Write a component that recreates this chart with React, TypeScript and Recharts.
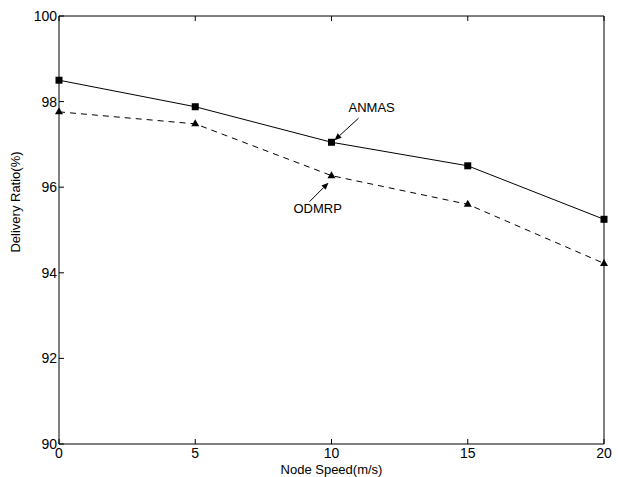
import React from 'react';
import { LineChart, Line, XAxis, YAxis, ReferenceDot } from 'recharts';

const speeds = [0, 5, 10, 15, 20];
const anmas = [98.5, 97.88, 97.05, 96.5, 95.25];
const odmrp = [97.76, 97.48, 96.27, 95.6, 94.22];
const xTicks = [0, 5, 10, 15, 20];
const yTicks = [90, 92, 94, 96, 98, 100];

const data = speeds.map((s, i) => ({ speed: s, anmas: anmas[i], odmrp: odmrp[i] }));

const FONT = '"Liberation Sans", Arial, sans-serif';
const TICK = 5;

const SquareDot = (p: any) => {
  const { cx, cy } = p;
  if (cx == null || cy == null) return null;
  return <rect x={cx - 3.5} y={cy - 3.5} width={7} height={7} fill="#000" />;
};

const TriDot = (p: any) => {
  const { cx, cy } = p;
  if (cx == null || cy == null) return null;
  return <path d={`M${cx},${cy - 4.5} L${cx + 4},${cy + 2.5} L${cx - 4},${cy + 2.5} Z`} fill="#000" />;
};

const Arrow = ({ x1, y1, x2, y2 }: any) => {
  const ang = Math.atan2(y2 - y1, x2 - x1);
  const L = 7, W = 3;
  const bx = x2 - L * Math.cos(ang), by = y2 - L * Math.sin(ang);
  const px = -Math.sin(ang) * W, py = Math.cos(ang) * W;
  return (
    <g>
      <line x1={x1} y1={y1} x2={bx} y2={by} stroke="#000" strokeWidth={1} />
      <path d={`M${x2},${y2} L${bx + px},${by + py} L${bx - px},${by - py} Z`} fill="#000" />
    </g>
  );
};

const AnmasNote = (p: any) => {
  const { cx, cy } = p;
  if (cx == null) return null;
  return (
    <g>
      <Arrow x1={cx + 27} y1={cy - 24} x2={cx + 3} y2={cy - 2} />
      <text x={cx + 17} y={cy - 30} fontFamily={FONT} fontSize={13} fill="#000">ANMAS</text>
    </g>
  );
};

const OdmrpNote = (p: any) => {
  const { cx, cy } = p;
  if (cx == null) return null;
  return (
    <g>
      <Arrow x1={cx - 22} y1={cy + 26} x2={cx - 3} y2={cy + 7} />
      <text x={cx - 38} y={cy + 37} fontFamily={FONT} fontSize={13} fill="#000">ODMRP</text>
    </g>
  );
};

// Left y tick: label + inward tick mark (tickSize 0, tickMargin 2 => axis at x+2)
const LeftTick = (p: any) => {
  const { x, y, payload } = p;
  const ax = x + 2;
  return (
    <g>
      <line x1={ax} y1={y} x2={ax + TICK} y2={y} stroke="#000" />
      <text x={x} y={y} dy="0.355em" textAnchor="end" fontFamily={FONT} fontSize={14} fill="#000">{payload.value}</text>
    </g>
  );
};

// Right y tick: inward mark only (tickSize 0, tickMargin 0 => axis at x)
const RightTick = (p: any) => {
  const { x, y } = p;
  return <line x1={x} y1={y} x2={x - TICK} y2={y} stroke="#000" />;
};

// Bottom x tick: label + inward mark (tickSize 0, tickMargin 2 => axis at y-2)
const BottomTick = (p: any) => {
  const { x, y, payload } = p;
  const ay = y - 2;
  return (
    <g>
      <line x1={x} y1={ay} x2={x} y2={ay - TICK} stroke="#000" />
      <text x={x} y={y} dy="0.85em" textAnchor="middle" fontFamily={FONT} fontSize={14} fill="#000">{payload.value}</text>
    </g>
  );
};

// Top x tick: inward mark only (tickSize 0, tickMargin 0 => axis at y)
const TopTick = (p: any) => {
  const { x, y } = p;
  return <line x1={x} y1={y} x2={x} y2={y + TICK} stroke="#000" />;
};

export default function App() {
  return (
    <div style={{ position: 'absolute', left: 0, top: 0, background: '#fff' }}>
      <LineChart width={618} height={477} data={data} margin={{ top: 15, right: 13, left: 0, bottom: 0 }}>
        <XAxis
          xAxisId="b"
          dataKey="speed"
          type="number"
          domain={[0, 20]}
          ticks={xTicks}
          height={33}
          tickSize={0}
          tickMargin={2}
          tickLine={false}
          tick={<BottomTick />}
          axisLine={{ stroke: '#000' }}
          label={{ value: 'Node Speed(m/s)', position: 'insideBottom', offset: 3, fill: '#000', fontSize: 13, fontFamily: FONT }}
        />
        <XAxis
          xAxisId="t"
          orientation="top"
          dataKey="speed"
          type="number"
          domain={[0, 20]}
          ticks={xTicks}
          height={1}
          tickSize={0}
          tickMargin={0}
          tickLine={false}
          tick={<TopTick />}
          axisLine={{ stroke: '#000' }}
        />
        <YAxis
          yAxisId="l"
          type="number"
          domain={[90, 100]}
          ticks={yTicks}
          width={59}
          tickSize={0}
          tickMargin={2}
          tickLine={false}
          tick={<LeftTick />}
          axisLine={{ stroke: '#000' }}
          label={{ value: 'Delivery Ratio(%)', angle: -90, position: 'insideLeft', dx: 10, dy: -28, fill: '#000', fontSize: 13, fontFamily: FONT, style: { textAnchor: 'middle' } }}
        />
        <YAxis
          yAxisId="r"
          orientation="right"
          type="number"
          domain={[90, 100]}
          ticks={yTicks}
          width={1}
          tickSize={0}
          tickMargin={0}
          tickLine={false}
          tick={<RightTick />}
          axisLine={{ stroke: '#000' }}
        />
        <Line
          xAxisId="b"
          yAxisId="l"
          dataKey="anmas"
          stroke="#000"
          strokeWidth={1}
          dot={<SquareDot />}
          isAnimationActive={false}
        />
        <Line
          xAxisId="b"
          yAxisId="l"
          dataKey="odmrp"
          stroke="#000"
          strokeWidth={1}
          strokeDasharray="6 5"
          dot={<TriDot />}
          isAnimationActive={false}
        />
        <ReferenceDot xAxisId="b" yAxisId="l" x={speeds[2]} y={anmas[2]} shape={<AnmasNote />} />
        <ReferenceDot xAxisId="b" yAxisId="l" x={speeds[2]} y={odmrp[2]} shape={<OdmrpNote />} />
      </LineChart>
    </div>
  );
}
